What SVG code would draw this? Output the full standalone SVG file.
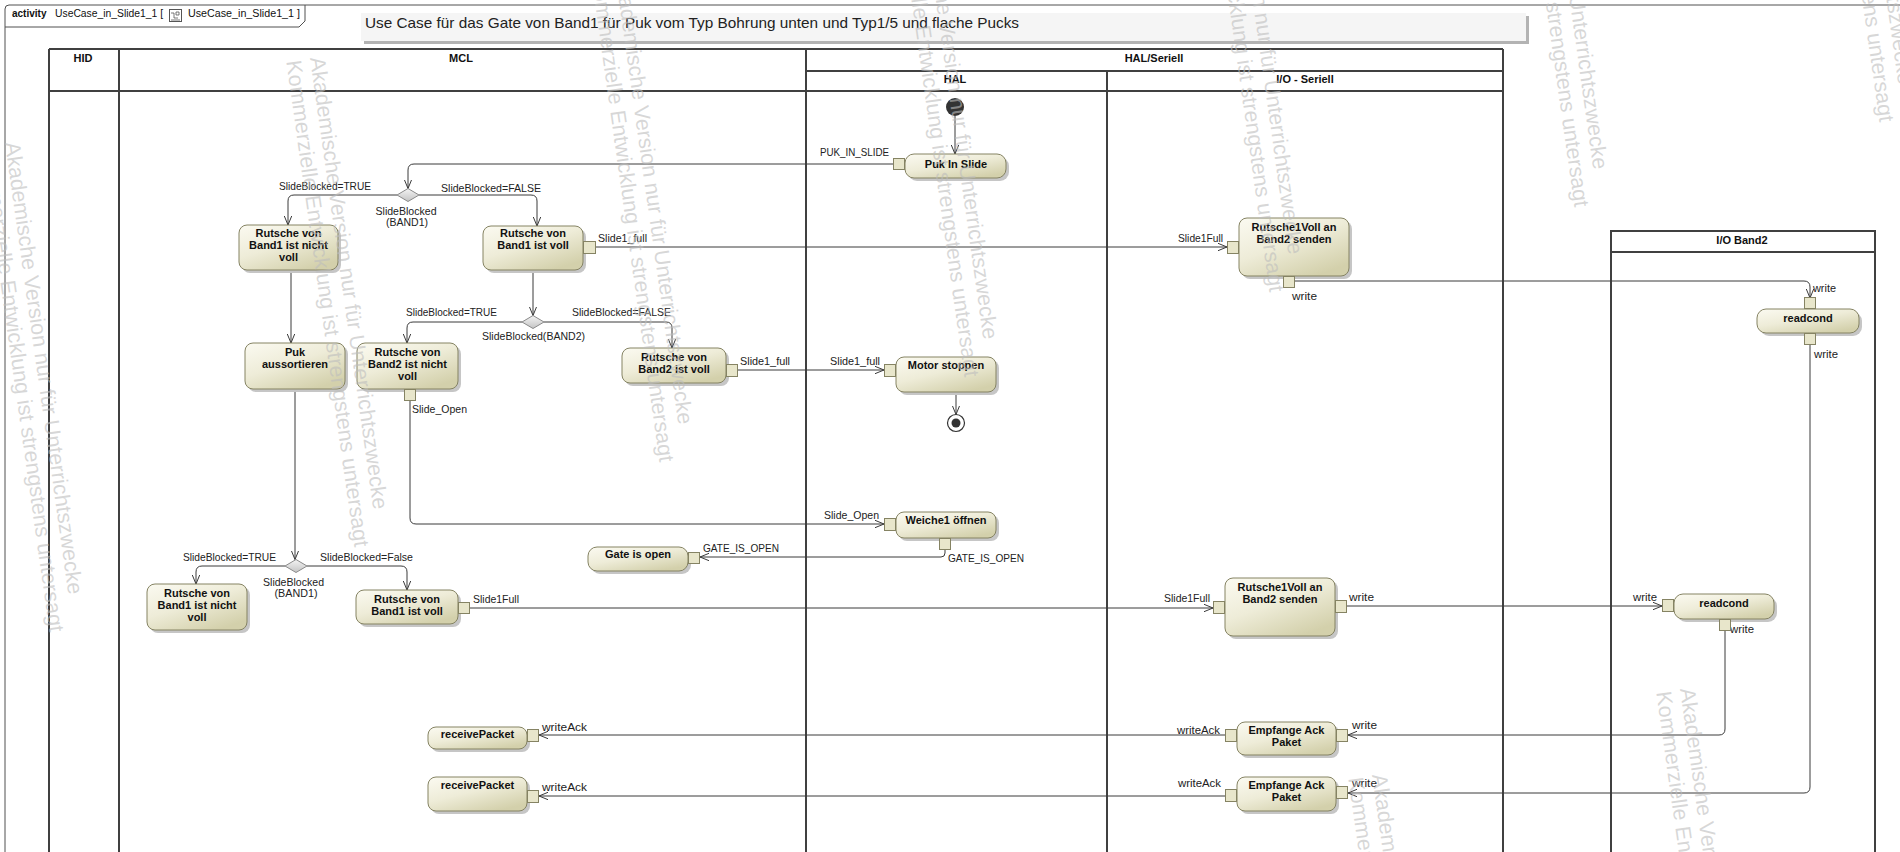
<svg xmlns="http://www.w3.org/2000/svg" width="1900" height="852" viewBox="0 0 1900 852">
<style>
.lane{stroke:#404040;stroke-width:2;fill:none}
.frame{stroke:#505050;stroke-width:1;fill:none}
.box{fill:url(#ng);stroke:#858363;stroke-width:1}
.sh{fill:#c6c6c6}
.pin{fill:#e8e6cb;stroke:#858363;stroke-width:1}
.nt{font-family:"Liberation Sans",Arial,sans-serif;font-size:11px;font-weight:bold;fill:#111;text-anchor:middle}
.hd{font-family:"Liberation Sans",Arial,sans-serif;font-size:11px;font-weight:bold;fill:#111;text-anchor:middle}
.lb{font-family:"Liberation Sans",Arial,sans-serif;font-size:11px;fill:#222}
.lbm{font-family:"Liberation Sans",Arial,sans-serif;font-size:11px;fill:#222;text-anchor:middle}
.edge{stroke:#3a3a3a;stroke-width:1;fill:none;marker-end:url(#ar)}
.dec{fill:url(#dg);stroke:#8a8a8a;stroke-width:1}
.wm{font-family:"Liberation Sans",Arial,sans-serif;font-size:21.5px;fill:#bdbdbd;fill-opacity:0.6}
</style>
<defs>
<linearGradient id="ng" x1="0" y1="0" x2="0.7" y2="1">
<stop offset="0" stop-color="#fbfaf1"/>
<stop offset="0.5" stop-color="#eeecd8"/>
<stop offset="1" stop-color="#d3d0ab"/>
</linearGradient>
<linearGradient id="dg" x1="0" y1="0" x2="0" y2="1">
<stop offset="0" stop-color="#f4f4f4"/>
<stop offset="1" stop-color="#c4c4c4"/>
</linearGradient>
<marker id="ar" viewBox="0 0 9 8" refX="9" refY="4" markerWidth="9" markerHeight="8" markerUnits="userSpaceOnUse" orient="auto">
<path d="M0,0.3 L9,4 L0,7.7" fill="none" stroke="#3a3a3a" stroke-width="1"/>
</marker>
</defs>
<rect x="0" y="0" width="1900" height="852" fill="#ffffff"/>

<!-- frame -->
<g id="frame">
<path class="frame" d="M5,852 V9 Q5,5 9,5 H1900"/>
<path class="frame" d="M5,27 H299 L305,21 V5"/>
<text x="12" y="17" font-family="'Liberation Sans',Arial,sans-serif" font-size="10" font-weight="bold" fill="#111">activity</text>
<text x="55" y="17" font-family="'Liberation Sans',Arial,sans-serif" font-size="10" fill="#111" textLength="108" lengthAdjust="spacingAndGlyphs">UseCase_in_Slide1_1 [</text>
<rect x="169.5" y="9.5" width="12" height="12" fill="#fff" stroke="#555"/>
<path d="M171,13 H174 M176,12 h3 v3 h-3 z M174,13 V18 H178 M171,20 H180" stroke="#555" fill="none" stroke-width="0.8"/>
<text x="188" y="17" font-family="'Liberation Sans',Arial,sans-serif" font-size="10" fill="#111" textLength="112" lengthAdjust="spacingAndGlyphs">UseCase_in_Slide1_1 ]</text>
</g>

<!-- title -->
<g id="title">
<rect x="364" y="16" width="1165" height="28" fill="#b3b3b3"/>
<rect x="361" y="13" width="1165" height="28" fill="#f5f5f5"/>
<text x="365" y="28" font-family="'Liberation Sans',Arial,sans-serif" font-size="15" fill="#222" textLength="654" lengthAdjust="spacingAndGlyphs">Use Case für das Gate von Band1 für Puk vom Typ Bohrung unten und Typ1/5 und flache Pucks</text>
</g>

<!-- swimlanes -->
<g id="lanes">
<path class="lane" d="M49,49 H1503 M806,71 H1503 M49,91 H1503 M49,49 V852 M119,49 V852 M806,49 V852 M1107,71 V852 M1503,49 V852"/>
<text class="hd" x="83" y="62">HID</text>
<text class="hd" x="461" y="62">MCL</text>
<text class="hd" x="1154" y="62">HAL/Seriell</text>
<text class="hd" x="955" y="83">HAL</text>
<text class="hd" x="1305" y="83">I/O - Seriell</text>
<path class="lane" d="M1611,852 V231 H1875 V852 M1611,252 H1875"/>
<text class="hd" x="1742" y="244">I/O Band2</text>
</g>

<!-- connectors -->
<g id="connectors">
<path class="edge" d="M955,116 V154"/>
<path class="edge" d="M893,164 H414 Q408,164 408,170 V188.5"/>
<path class="edge" d="M397,195 H294 Q288,195 288,201 V225"/>
<path class="edge" d="M419,195 H531 Q537,195 537,201 V226"/>
<path class="edge" d="M595,247 H1227"/>
<path class="edge" d="M291,270 V343"/>
<path class="edge" d="M533,270 V315.5"/>
<path class="edge" d="M522,322 H413 Q407,322 407,328 V343"/>
<path class="edge" d="M544,322 H666 Q672,322 672,328 V348"/>
<path class="edge" d="M738,370 H884"/>
<path class="edge" d="M956,392 V414.5"/>
<path class="edge" d="M410,400 V518 Q410,524 416,524 H884"/>
<path class="edge" d="M945,549 V553 Q945,557 941,557 H700"/>
<path class="edge" d="M295,389 V559.5"/>
<path class="edge" d="M285,566 H202 Q196,566 196,572 V584"/>
<path class="edge" d="M307,566 H401 Q407,566 407,572 V590"/>
<path class="edge" d="M470,608 H1213"/>
<path class="edge" d="M1347,606 H1662"/>
<path class="edge" d="M1725,630 V729 Q1725,735 1719,735 H1348"/>
<path class="edge" d="M1225,735 H539"/>
<path class="edge" d="M1295,281 H1804 Q1810,281 1810,287 V298"/>
<path class="edge" d="M1810,345 V787 Q1810,793 1804,793 H1348"/>
<path class="edge" d="M1225,796 H539"/>
<text class="lb" x="820" y="156" textLength="69" lengthAdjust="spacingAndGlyphs">PUK_IN_SLIDE</text>
<text class="lb" x="279" y="190" textLength="92" lengthAdjust="spacingAndGlyphs">SlideBlocked=TRUE</text>
<text class="lb" x="441" y="192" textLength="100" lengthAdjust="spacingAndGlyphs">SlideBlocked=FALSE</text>
<text class="lb" x="598" y="242" textLength="49" lengthAdjust="spacingAndGlyphs">Slide1_full</text>
<text class="lb" x="1178" y="242" textLength="45" lengthAdjust="spacingAndGlyphs">Slide1Full</text>
<text class="lb" x="1292" y="300" textLength="25" lengthAdjust="spacingAndGlyphs">write</text>
<text class="lb" x="1813" y="292" textLength="23" lengthAdjust="spacingAndGlyphs">write</text>
<text class="lb" x="1814" y="358" textLength="24" lengthAdjust="spacingAndGlyphs">write</text>
<text class="lb" x="406" y="316" textLength="91" lengthAdjust="spacingAndGlyphs">SlideBlocked=TRUE</text>
<text class="lb" x="572" y="316" textLength="99" lengthAdjust="spacingAndGlyphs">SlideBlocked=FALSE</text>
<text class="lb" x="740" y="365" textLength="50" lengthAdjust="spacingAndGlyphs">Slide1_full</text>
<text class="lb" x="412" y="413" textLength="55" lengthAdjust="spacingAndGlyphs">Slide_Open</text>
<text class="lb" x="830" y="365" textLength="50" lengthAdjust="spacingAndGlyphs">Slide1_full</text>
<text class="lb" x="824" y="519" textLength="55" lengthAdjust="spacingAndGlyphs">Slide_Open</text>
<text class="lb" x="948" y="562" textLength="76" lengthAdjust="spacingAndGlyphs">GATE_IS_OPEN</text>
<text class="lb" x="703" y="552" textLength="76" lengthAdjust="spacingAndGlyphs">GATE_IS_OPEN</text>
<text class="lb" x="183" y="561" textLength="93" lengthAdjust="spacingAndGlyphs">SlideBlocked=TRUE</text>
<text class="lb" x="320" y="561" textLength="93" lengthAdjust="spacingAndGlyphs">SlideBlocked=False</text>
<text class="lb" x="473" y="603" textLength="46" lengthAdjust="spacingAndGlyphs">Slide1Full</text>
<text class="lb" x="1164" y="602" textLength="46" lengthAdjust="spacingAndGlyphs">Slide1Full</text>
<text class="lb" x="1349" y="601" textLength="25" lengthAdjust="spacingAndGlyphs">write</text>
<text class="lb" x="1633" y="601" textLength="24" lengthAdjust="spacingAndGlyphs">write</text>
<text class="lb" x="1730" y="633" textLength="24" lengthAdjust="spacingAndGlyphs">write</text>
<text class="lb" x="1177" y="734" textLength="43" lengthAdjust="spacingAndGlyphs">writeAck</text>
<text class="lb" x="1352" y="729" textLength="25" lengthAdjust="spacingAndGlyphs">write</text>
<text class="lb" x="542" y="731" textLength="45" lengthAdjust="spacingAndGlyphs">writeAck</text>
<text class="lb" x="1178" y="787" textLength="43" lengthAdjust="spacingAndGlyphs">writeAck</text>
<text class="lb" x="1352" y="787" textLength="25" lengthAdjust="spacingAndGlyphs">write</text>
<text class="lb" x="542" y="791" textLength="45" lengthAdjust="spacingAndGlyphs">writeAck</text>
</g>

<!-- initial / final -->
<g id="initial"><circle cx="955" cy="107" r="9" fill="#333"/></g>
<g id="final"><circle cx="956" cy="423" r="8.5" fill="#fff" stroke="#333" stroke-width="1.2"/><circle cx="956" cy="423" r="4.5" fill="#333"/></g>

<!-- decisions -->
<g id="d1"><path class="dec" d="M408,188.5 L419,195 L408,201.5 L397,195 Z"/>
<text class="lbm" x="406" y="215" textLength="61" lengthAdjust="spacingAndGlyphs">SlideBlocked</text>
<text class="lbm" x="407" y="226" textLength="42" lengthAdjust="spacingAndGlyphs">(BAND1)</text></g>
<g id="d2"><path class="dec" d="M533,315.5 L544,322 L533,328.5 L522,322 Z"/>
<text class="lbm" x="533.5" y="340" textLength="103" lengthAdjust="spacingAndGlyphs">SlideBlocked(BAND2)</text></g>
<g id="d3"><path class="dec" d="M296,559.5 L307,566 L296,572.5 L285,566 Z"/>
<text class="lbm" x="293.5" y="586" textLength="61" lengthAdjust="spacingAndGlyphs">SlideBlocked</text>
<text class="lbm" x="296" y="597" textLength="43" lengthAdjust="spacingAndGlyphs">(BAND1)</text></g>

<!-- nodes -->
<g id="n_puk_in_slide"><rect class="sh" x="908" y="157" width="101" height="24" rx="9"/><rect class="box" x="905" y="154" width="101" height="24" rx="9"/><rect class="pin" x="893.5" y="158.5" width="11" height="11"/><text class="nt" x="956" y="168">Puk In Slide</text></g>

<g id="n_b1_nicht_voll_1"><rect class="sh" x="242" y="228" width="99" height="45" rx="8"/><rect class="box" x="239" y="225" width="99" height="45" rx="8"/><text class="nt" x="288.5" y="237">Rutsche von</text><text class="nt" x="288.5" y="249">Band1 ist nicht</text><text class="nt" x="288.5" y="261">voll</text></g>

<g id="n_b1_voll_1"><rect class="sh" x="486" y="229" width="100" height="44" rx="8"/><rect class="box" x="483" y="226" width="100" height="44" rx="8"/><rect class="pin" x="583.5" y="241.5" width="12" height="12"/><text class="nt" x="533" y="237">Rutsche von</text><text class="nt" x="533" y="249">Band1 ist voll</text></g>

<g id="n_rutsche1voll_1"><rect class="sh" x="1242" y="221" width="110" height="58" rx="8"/><rect class="box" x="1239" y="218" width="110" height="58" rx="8"/><rect class="pin" x="1227.5" y="241.5" width="11" height="12"/><rect class="pin" x="1283.5" y="276.5" width="11" height="11"/><text class="nt" x="1294" y="231">Rutsche1Voll an</text><text class="nt" x="1294" y="243">Band2 senden</text></g>

<g id="n_readcond_1"><rect class="sh" x="1760" y="312" width="102" height="24" rx="9"/><rect class="box" x="1757" y="309" width="102" height="24" rx="9"/><rect class="pin" x="1804.5" y="297.5" width="11" height="11"/><rect class="pin" x="1804.5" y="333.5" width="11" height="11"/><text class="nt" x="1808" y="322">readcond</text></g>

<g id="n_puk_aussortieren"><rect class="sh" x="248" y="346" width="100" height="46" rx="8"/><rect class="box" x="245" y="343" width="100" height="46" rx="8"/><text class="nt" x="295" y="356">Puk</text><text class="nt" x="295" y="368">aussortieren</text></g>

<g id="n_b2_nicht_voll"><rect class="sh" x="360" y="346" width="101" height="46" rx="8"/><rect class="box" x="357" y="343" width="101" height="46" rx="8"/><rect class="pin" x="404.5" y="389.5" width="11" height="11"/><text class="nt" x="407.5" y="356">Rutsche von</text><text class="nt" x="407.5" y="368">Band2 ist nicht</text><text class="nt" x="407.5" y="380">voll</text></g>

<g id="n_b2_voll"><rect class="sh" x="625" y="351" width="104" height="35" rx="8"/><rect class="box" x="622" y="348" width="104" height="35" rx="8"/><rect class="pin" x="726.5" y="364.5" width="11" height="12"/><text class="nt" x="674" y="361">Rutsche von</text><text class="nt" x="674" y="373">Band2 ist voll</text></g>

<g id="n_motor"><rect class="sh" x="899" y="360" width="100" height="35" rx="8"/><rect class="box" x="896" y="357" width="100" height="35" rx="8"/><rect class="pin" x="884.5" y="364.5" width="11" height="12"/><text class="nt" x="946" y="369">Motor stoppen</text></g>

<g id="n_weiche"><rect class="sh" x="899" y="515" width="100" height="26" rx="8"/><rect class="box" x="896" y="512" width="100" height="26" rx="8"/><rect class="pin" x="884.5" y="518.5" width="11" height="12"/><rect class="pin" x="939.5" y="538.5" width="11" height="11"/><text class="nt" x="946" y="524">Weiche1 öffnen</text></g>

<g id="n_gate_open"><rect class="sh" x="591" y="550" width="100" height="24" rx="9"/><rect class="box" x="588" y="547" width="100" height="24" rx="9"/><rect class="pin" x="688.5" y="552.5" width="11" height="11"/><text class="nt" x="638" y="558">Gate is open</text></g>

<g id="n_b1_nicht_voll_2"><rect class="sh" x="150" y="587" width="100" height="46" rx="8"/><rect class="box" x="147" y="584" width="100" height="46" rx="8"/><text class="nt" x="197" y="597">Rutsche von</text><text class="nt" x="197" y="609">Band1 ist nicht</text><text class="nt" x="197" y="621">voll</text></g>

<g id="n_b1_voll_2"><rect class="sh" x="359" y="593" width="102" height="34" rx="8"/><rect class="box" x="356" y="590" width="102" height="34" rx="8"/><rect class="pin" x="458.5" y="602.5" width="11" height="11"/><text class="nt" x="407" y="603">Rutsche von</text><text class="nt" x="407" y="615">Band1 ist voll</text></g>

<g id="n_rutsche1voll_2"><rect class="sh" x="1228" y="581" width="110" height="58" rx="8"/><rect class="box" x="1225" y="578" width="110" height="58" rx="8"/><rect class="pin" x="1213.5" y="601.5" width="11" height="12"/><rect class="pin" x="1335.5" y="600.5" width="11" height="12"/><text class="nt" x="1280" y="591">Rutsche1Voll an</text><text class="nt" x="1280" y="603">Band2 senden</text></g>

<g id="n_readcond_2"><rect class="sh" x="1677" y="597" width="100" height="25" rx="9"/><rect class="box" x="1674" y="594" width="100" height="25" rx="9"/><rect class="pin" x="1662.5" y="599.5" width="11" height="12"/><rect class="pin" x="1719.5" y="619.5" width="11" height="11"/><text class="nt" x="1724" y="607">readcond</text></g>

<g id="n_receive_1"><rect class="sh" x="431" y="730" width="99" height="22" rx="8"/><rect class="box" x="428" y="727" width="99" height="22" rx="8"/><rect class="pin" x="527.5" y="729.5" width="11" height="12"/><text class="nt" x="477.5" y="738">receivePacket</text></g>

<g id="n_empfange_1"><rect class="sh" x="1240" y="725" width="99" height="33" rx="8"/><rect class="box" x="1237" y="722" width="99" height="33" rx="8"/><rect class="pin" x="1225.5" y="729.5" width="11" height="12"/><rect class="pin" x="1336.5" y="729.5" width="11" height="12"/><text class="nt" x="1286.5" y="734">Empfange Ack</text><text class="nt" x="1286.5" y="746">Paket</text></g>

<g id="n_receive_2"><rect class="sh" x="431" y="780" width="99" height="34" rx="8"/><rect class="box" x="428" y="777" width="99" height="34" rx="8"/><rect class="pin" x="527.5" y="790.5" width="11" height="12"/><text class="nt" x="477.5" y="789">receivePacket</text></g>

<g id="n_empfange_2"><rect class="sh" x="1240" y="780" width="99" height="34" rx="8"/><rect class="box" x="1237" y="777" width="99" height="34" rx="8"/><rect class="pin" x="1225.5" y="789.5" width="11" height="12"/><rect class="pin" x="1336.5" y="786.5" width="11" height="12"/><text class="nt" x="1286.5" y="789">Empfange Ack</text><text class="nt" x="1286.5" y="801">Paket</text></g>

<!-- watermark -->
<g id="watermark" class="wm">
<g transform="translate(5,143) rotate(82)"><text x="0" y="0">Akademische Version nur für Unterrichtszwecke</text><text x="0" y="24">Kommerzielle Entwicklung ist strengstens untersagt</text></g>
<g transform="translate(310,58) rotate(82)"><text x="0" y="0">Akademische Version nur für Unterrichtszwecke</text><text x="0" y="24">Kommerzielle Entwicklung ist strengstens untersagt</text></g>
<g transform="translate(615,-27) rotate(82)"><text x="0" y="0">Akademische Version nur für Unterrichtszwecke</text><text x="0" y="24">Kommerzielle Entwicklung ist strengstens untersagt</text></g>
<g transform="translate(920,-112) rotate(82)"><text x="0" y="0">Akademische Version nur für Unterrichtszwecke</text><text x="0" y="24">Kommerzielle Entwicklung ist strengstens untersagt</text></g>
<g transform="translate(1225,-197) rotate(82)"><text x="0" y="0">Akademische Version nur für Unterrichtszwecke</text><text x="0" y="24">Kommerzielle Entwicklung ist strengstens untersagt</text></g>
<g transform="translate(1530,-282) rotate(82)"><text x="0" y="0">Akademische Version nur für Unterrichtszwecke</text><text x="0" y="24">Kommerzielle Entwicklung ist strengstens untersagt</text></g>
<g transform="translate(1835,-367) rotate(82)"><text x="0" y="0">Akademische Version nur für Unterrichtszwecke</text><text x="0" y="24">Kommerzielle Entwicklung ist strengstens untersagt</text></g>
<g transform="translate(1372,775) rotate(82)"><text x="0" y="0">Akademische Version nur für Unterrichtszwecke</text><text x="0" y="24">Kommerzielle Entwicklung ist strengstens untersagt</text></g>
<g transform="translate(1680,689) rotate(82)"><text x="0" y="0">Akademische Version nur für Unterrichtszwecke</text><text x="0" y="24">Kommerzielle Entwicklung ist strengstens untersagt</text></g>
</g>
</svg>
